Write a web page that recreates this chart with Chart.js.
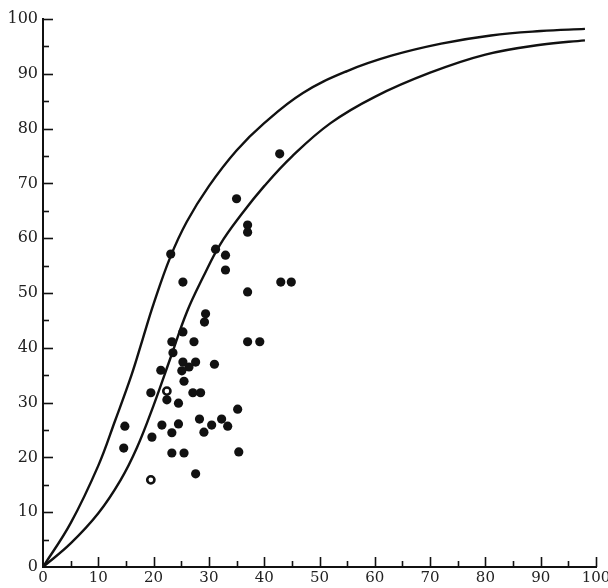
<!DOCTYPE html>
<html>
<head>
<meta charset="utf-8">
<script src="https://cdn.jsdelivr.net/npm/chart.js@4/dist/chart.umd.min.js"></script>
<style>
html,body{margin:0;padding:0;background:#fff;}
#wrap{width:608px;height:588px;position:relative;}
</style>
</head>
<body>
<div id="wrap"><canvas id="c" width="608" height="588"></canvas></div>
<script>
// Axis ticks
const xTickValues = [0,10,20,30,40,50,60,70,80,90,100];
const yTickValues = [0,10,20,30,40,50,60,70,80,90,100];

// Filled observation points
const pointsX = [29.4,29.2,25.3,23.3,27.3,37.0,39.2,23.5,25.3,27.6,26.4,31.0,21.3,25.1,25.5,19.5,22.4,24.5,27.1,28.5,35.2,14.8,21.5,24.5,23.3,19.7,28.3,30.5,32.3,33.4,29.1,14.6,23.3,25.5,35.4,27.6,35.0,37.0,37.0,23.1,31.2,33.0,33.0,25.3,43.0,44.9,37.0,42.8];
const pointsY = [46.2,44.7,42.9,41.1,41.1,41.1,41.1,39.1,37.4,37.4,36.5,37.0,35.9,35.8,33.9,31.8,30.5,29.9,31.8,31.8,28.8,25.7,25.9,26.1,24.5,23.7,27.0,25.9,27.0,25.7,24.6,21.7,20.8,20.8,21.0,17.0,67.2,62.4,61.1,57.1,58.0,56.9,54.2,52.0,52.0,52.0,50.2,75.4];

// Open (ringed) points
const openX = [22.4,19.5];
const openY = [32.1,15.9];

// Upper boundary curve
const upperX = [0,5,10,13,16,18,20,23,26,30,35,40,47,55,63,72,81,90,98];
const upperY = [0,8,18.5,26.6,35,41.5,48,56.5,63,69.5,76,81,86.5,90.5,93.3,95.5,97,97.8,98.2];

// Lower boundary curve
const lowerX = [0,5,10,14,17,20,23,26,29,32,36,40,45,52,60,70,80,90,98];
const lowerY = [0,4.3,9.8,15.8,21.8,29.5,38,46.5,53,58.8,64.5,69.5,74.9,81,85.8,90.2,93.5,95.3,96.1];

const zip = (xs, ys) => xs.map((x,i)=>({x:x, y:ys[i]}));

const inwardTicks = {
  id:'inwardTicks',
  afterDraw(chart){
    const ctx = chart.ctx;
    const xs = chart.scales.x, ys = chart.scales.y;
    const area = chart.chartArea;
    ctx.save();
    ctx.strokeStyle = '#111';
    ctx.lineWidth = 1.6;
    for (let v = 5; v <= 100; v += 5) {
      const len = (v % 10 === 0) ? 10 : 6;
      const px = Math.round(xs.getPixelForValue(v)) + 0.5;
      ctx.beginPath(); ctx.moveTo(px, area.bottom); ctx.lineTo(px, area.bottom - len); ctx.stroke();
      const py = Math.round(ys.getPixelForValue(v)) + 0.5;
      ctx.beginPath(); ctx.moveTo(area.left, py); ctx.lineTo(area.left + len, py); ctx.stroke();
    }
    ctx.restore();
  }
};

const serif = "'DejaVu Serif','Liberation Serif',serif";

new Chart(document.getElementById('c'), {
  type:'scatter',
  data:{
    datasets:[
      {label:'upper', data: zip(upperX, upperY), showLine:true, borderColor:'#111', borderWidth:2.4, pointRadius:0, tension:0.4, fill:false, order:3},
      {label:'lower', data: zip(lowerX, lowerY), showLine:true, borderColor:'#111', borderWidth:2.4, pointRadius:0, tension:0.4, fill:false, order:3},
      {label:'points', data: zip(pointsX, pointsY), pointRadius:4.6, pointBackgroundColor:'#111', pointBorderColor:'#111', pointBorderWidth:0, order:1},
      {label:'open', data: zip(openX, openY), pointRadius:3.6, pointBackgroundColor:'#fff', pointBorderColor:'#111', pointBorderWidth:2.6, order:1}
    ]
  },
  options:{
    responsive:false,
    animation:false,
    layout:{padding:{top:19, right:12, left:0, bottom:0}},
    plugins:{legend:{display:false}, tooltip:{enabled:false}},
    scales:{
      x:{
        type:'linear', min:0, max:100,
        afterBuildTicks(s){ s.ticks = xTickValues.map(v=>({value:v})); },
        afterFit(s){ s.height = 21; s.paddingRight = 0; s.paddingLeft = 0; },
        ticks:{font:{family:serif, size:15}, color:'#222', padding:2, maxRotation:0, autoSkip:false},
        grid:{display:true, drawOnChartArea:false, drawTicks:false},
        border:{display:true, color:'#111', width:2}
      },
      y:{
        type:'linear', min:0, max:100,
        afterBuildTicks(s){ s.ticks = yTickValues.map(v=>({value:v})); },
        afterFit(s){ s.width = 43; },
        ticks:{font:{family:serif, size:16}, color:'#222', padding:5, autoSkip:false},
        grid:{display:true, drawOnChartArea:false, drawTicks:false},
        border:{display:true, color:'#111', width:2}
      }
    }
  },
  plugins:[inwardTicks]
});
</script>
</body>
</html>
